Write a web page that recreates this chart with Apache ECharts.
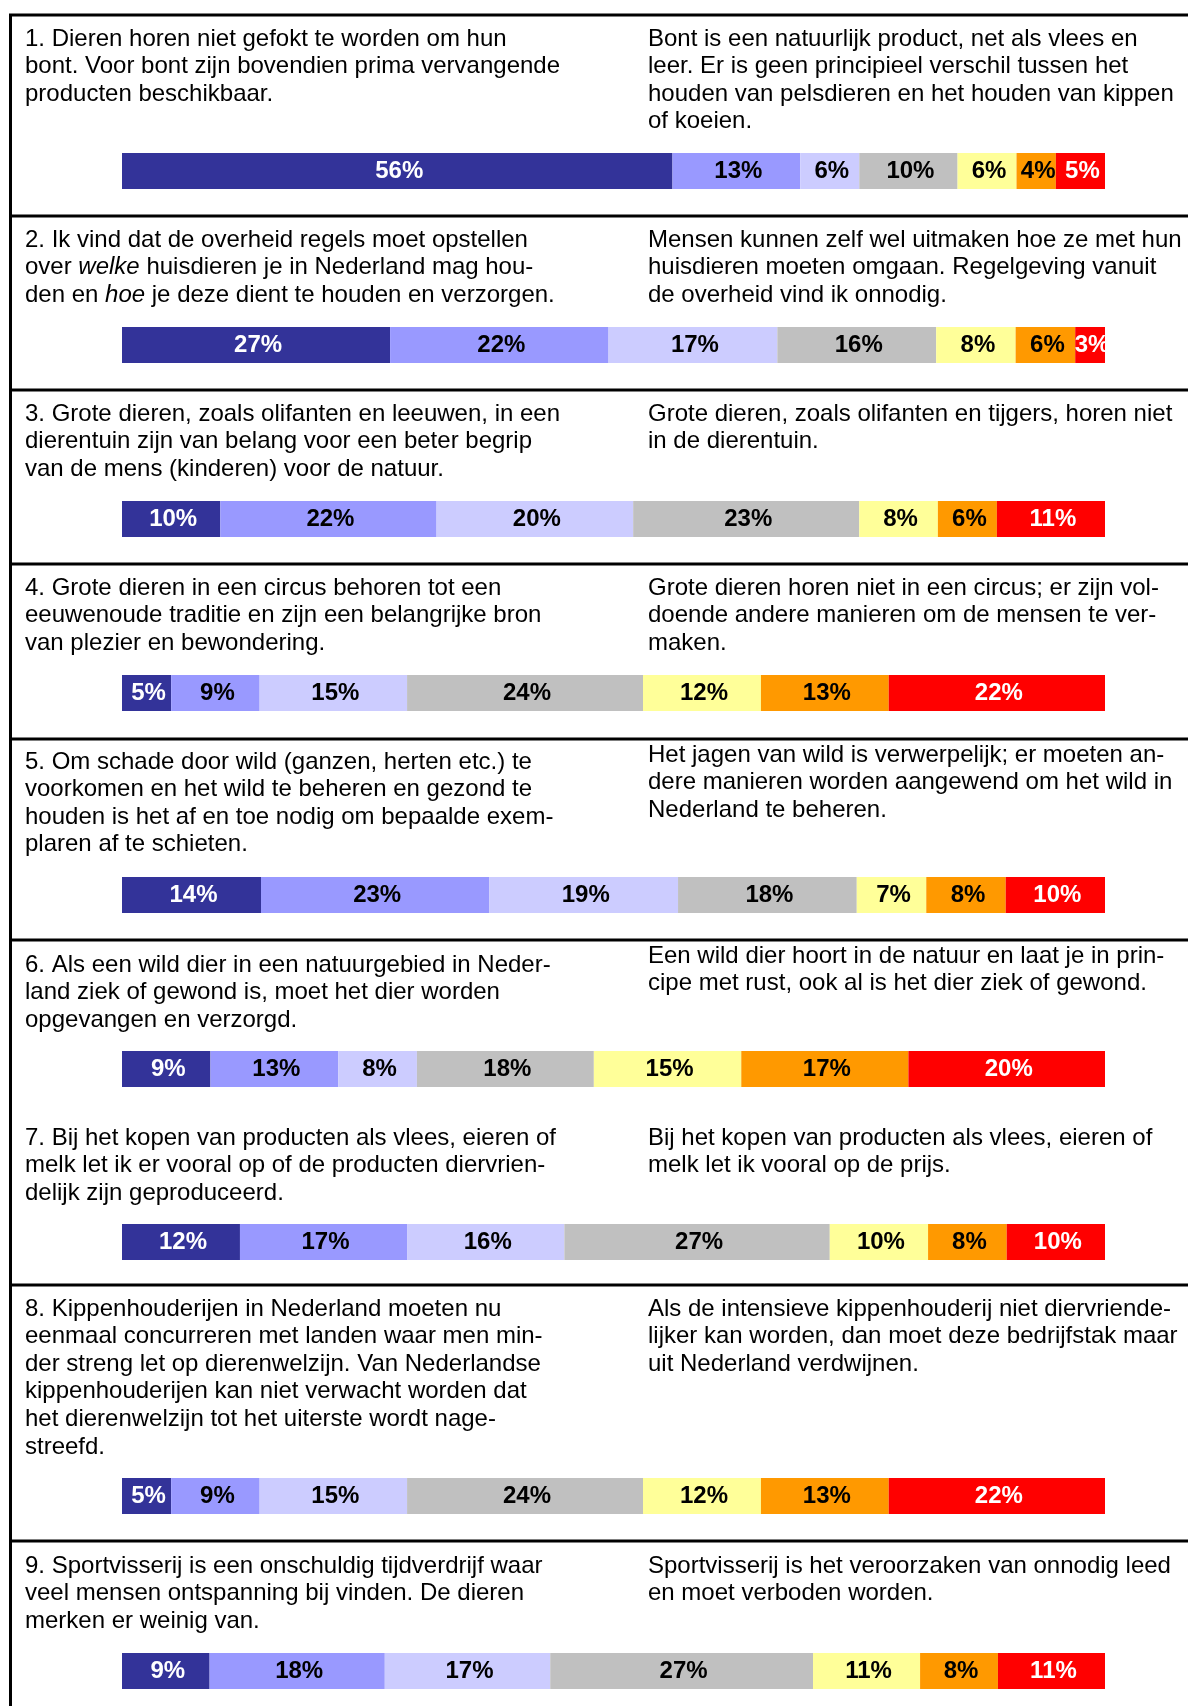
<!DOCTYPE html>
<html><head><meta charset="utf-8">
<script src="https://cdn.jsdelivr.net/npm/echarts@6/dist/echarts.min.js"></script>
<style>html,body{margin:0;padding:0;background:#fff}#c{width:1188px;height:1706px}</style>
</head><body><div id="c"></div>
<script>
// ---------- DATA ----------
const categories = ['1', '2', '3', '4', '5', '6', '7', '8', '9'];

const leftStatements = [
  '1. Dieren horen niet gefokt te worden om hun\nbont. Voor bont zijn bovendien prima vervangende\nproducten beschikbaar.',
  '2. Ik vind dat de overheid regels moet opstellen\nover {i|welke} huisdieren je in Nederland mag hou-\nden en {i|hoe} je deze dient te houden en verzorgen.',
  '3. Grote dieren, zoals olifanten en leeuwen, in een\ndierentuin zijn van belang voor een beter begrip\nvan de mens (kinderen) voor de natuur.',
  '4. Grote dieren in een circus behoren tot een\neeuwenoude traditie en zijn een belangrijke bron\nvan plezier en bewondering.',
  '5. Om schade door wild (ganzen, herten etc.) te\nvoorkomen en het wild te beheren en gezond te\nhouden is het af en toe nodig om bepaalde exem-\nplaren af te schieten.',
  '6. Als een wild dier in een natuurgebied in Neder-\nland ziek of gewond is, moet het dier worden\nopgevangen en verzorgd.',
  '7. Bij het kopen van producten als vlees, eieren of\nmelk let ik er vooral op of de producten diervrien-\ndelijk zijn geproduceerd.',
  '8. Kippenhouderijen in Nederland moeten nu\neenmaal concurreren met landen waar men min-\nder streng let op dierenwelzijn. Van Nederlandse\nkippenhouderijen kan niet verwacht worden dat\nhet dierenwelzijn tot het uiterste wordt nage-\nstreefd.',
  '9. Sportvisserij is een onschuldig tijdverdrijf waar\nveel mensen ontspanning bij vinden. De dieren\nmerken er weinig van.'
];

const rightStatements = [
  'Bont is een natuurlijk product, net als vlees en\nleer. Er is geen principieel verschil tussen het\nhouden van pelsdieren en het houden van kippen\nof koeien.',
  'Mensen kunnen zelf wel uitmaken hoe ze met hun\nhuisdieren moeten omgaan. Regelgeving vanuit\nde overheid vind ik onnodig.',
  'Grote dieren, zoals olifanten en tijgers, horen niet\nin de dierentuin.',
  'Grote dieren horen niet in een circus; er zijn vol-\ndoende andere manieren om de mensen te ver-\nmaken.',
  'Het jagen van wild is verwerpelijk; er moeten an-\ndere manieren worden aangewend om het wild in\nNederland te beheren.',
  'Een wild dier hoort in de natuur en laat je in prin-\ncipe met rust, ook al is het dier ziek of gewond.',
  'Bij het kopen van producten als vlees, eieren of\nmelk let ik vooral op de prijs.',
  'Als de intensieve kippenhouderij niet diervriende-\nlijker kan worden, dan moet deze bedrijfstak maar\nuit Nederland verdwijnen.',
  'Sportvisserij is het veroorzaken van onnodig leed\nen moet verboden worden.'
];

// shares (%) per answer position, one value per statement
const stronglyLeft  = [56, 27, 10,  5, 14,  9, 12,  5,  9];
const left          = [13, 22, 22,  9, 23, 13, 17,  9, 18];
const slightlyLeft  = [ 6, 17, 20, 15, 19,  8, 16, 15, 17];
const neutral       = [10, 16, 23, 24, 18, 18, 27, 24, 27];
const slightlyRight = [ 6,  8,  8, 12,  7, 15, 10, 12, 11];
const right         = [ 4,  6,  6, 13,  8, 17,  8, 13,  8];
const stronglyRight = [ 5,  3, 11, 22, 10, 20, 10, 22, 11];

// ---------- LAYOUT / STYLE ----------
const seriesData = [stronglyLeft, left, slightlyLeft, neutral, slightlyRight, right, stronglyRight];
const colors = ['#333399', '#9999FF', '#CCCCFF', '#C0C0C0', '#FFFF99', '#FF9900', '#FF0000'];
const labelColors = ['#FFFFFF', '#000000', '#000000', '#000000', '#000000', '#000000', '#FFFFFF'];
const barCenters = [171, 345, 519, 693, 895, 1069, 1242, 1496, 1671];
const leftTextY = [39, 240, 414, 588, 762, 965, 1138, 1309, 1566];
const rightTextY = [39, 240, 414, 588, 755, 956, 1138, 1309, 1566];
const separators = [216, 390, 564, 739, 940, 1285, 1541];
const FONT = "'Liberation Sans', Arial, Helvetica, sans-serif";
const LH = 27.6;
const BAR_H = 36, BAR_L = 122, BAR_W = 983;

const grids = [], xAxes = [], yAxes = [], series = [];
categories.forEach((cat, i) => {
  grids.push({ left: BAR_L, width: BAR_W, top: barCenters[i] - BAR_H / 2, height: BAR_H, containLabel: false });
  const total = seriesData.reduce((s, arr) => s + arr[i], 0);
  xAxes.push({ type: 'value', gridIndex: i, min: 0, max: total, show: false });
  yAxes.push({ type: 'category', gridIndex: i, data: [cat], show: false });
  seriesData.forEach((arr, k) => {
    series.push({
      type: 'bar', stack: 'q' + i, xAxisIndex: i, yAxisIndex: i,
      barWidth: BAR_H, data: [arr[i]],
      itemStyle: { color: colors[k] },
      label: {
        show: true, position: 'inside', formatter: '{c}%', offset: [2, 0],
        color: labelColors[k], fontFamily: FONT, fontSize: 24, fontWeight: 'bold'
      },
      emphasis: { disabled: true }
    });
  });
});

const graphics = [];
const lineStyle = { stroke: '#000', lineWidth: 3 };
graphics.push({ type: 'line', shape: { x1: 9, y1: 15, x2: 1188, y2: 15 }, style: lineStyle });
graphics.push({ type: 'line', shape: { x1: 10.5, y1: 15, x2: 10.5, y2: 1706 }, style: lineStyle });
separators.forEach(y => graphics.push({ type: 'line', shape: { x1: 9, y1: y, x2: 1188, y2: y }, style: lineStyle }));

const richStyles = {
  i: { fontFamily: FONT, fontSize: 24, fontStyle: 'italic', lineHeight: LH, fill: '#000' }
};
leftStatements.forEach((t, i) => {
  graphics.push({ type: 'text', x: 25, y: leftTextY[i] - LH / 2,
    style: { text: t, fill: '#000', fontFamily: FONT, fontSize: 24, lineHeight: LH, verticalAlign: 'top', rich: richStyles } });
});
rightStatements.forEach((t, i) => {
  graphics.push({ type: 'text', x: 648, y: rightTextY[i] - LH / 2,
    style: { text: t, fill: '#000', fontFamily: FONT, fontSize: 24, lineHeight: LH, verticalAlign: 'top' } });
});

const chart = echarts.init(document.getElementById('c'), null, { renderer: 'canvas' });
chart.setOption({
  backgroundColor: '#fff',
  animation: false,
  grid: grids, xAxis: xAxes, yAxis: yAxes, series: series,
  graphic: graphics
});
</script>
</body></html>
